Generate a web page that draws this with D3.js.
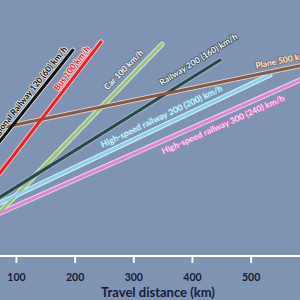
<!DOCTYPE html>
<html><head><meta charset="utf-8">
<script src="https://cdn.jsdelivr.net/npm/d3@7"></script>
<style>html,body{margin:0;padding:0;background:#7f93b3;}svg{display:block;}</style>
</head><body>
<svg id="c" width="300" height="300"></svg>
<script>
// ---- data ----
const modes = ["Regional Railway 120 (60) km/h","Bus 100 km/h","Car 100 km/h","Railway 200 (160) km/h","Plane 500 km/h","High-speed railway 200 (200) km/h","High-speed railway 300 (240) km/h"];
const startDist = [0, 0, 0, 0, 0, 0, 0];          // km
const startTime = [1.05, 0.47, 0.0, 0.55, 2.03, 0.56, 0.41]; // h
const endDist = [197, 245, 349, 448, 650, 533, 650];   // km
const endTime = [3.51, 3.65, 3.61, 3.34, 3.38, 3.085, 3.29]; // h
const xTicks = [100, 200, 300, 400, 500, 600];
const xTitle = "Travel distance (km)";

// ---- styles ----
const lineColor = ["#111111","#e3242b","#9dc183","#28474f","#7e5b4c","#8fcfe9","#d88ad0"];
const haloColor = ["#d9d9d9","#f6c2c2","#d9ebc9","#9fb6bf","#e6cbbd","#d2f0fb","#f3cdef"];
const labelCfg = [
  {anchor:"end", along:-3, perp:4.5, fill:"#111111", stroke:"#e6e6e6"},
  {anchor:"end", along:-12, perp:4, fill:"#e3242b", stroke:"#f7dede"},
  {anchor:"end", along:-19, perp:7, fill:"#f4f4f4", stroke:"#5b6672"},
  {anchor:"end", along:27, perp:9, fill:"#f4f4f4", stroke:"#3b505b"},
  {anchor:"start", along:-83, perp:6, fill:"#f3e7dd", stroke:"#86685a"},
  {anchor:"end", along:-49, perp:6, fill:"#d6f1fb", stroke:"#6fa9c6"},
  {anchor:"end", along:-64, perp:-12.5, fill:"#f7dcf3", stroke:"#c477bd"}
];

const svg = d3.select("#c");
const x = d3.scaleLinear().domain([0, 600]).range([-42.7, 309.3]);
const y = d3.scaleLinear().domain([0, 4.363]).range([256, 0]);

// axis
const axis = d3.axisBottom(x).tickValues(xTicks).tickSize(7).tickPadding(11).tickFormat(d3.format("d"));
const gx = svg.append("g").attr("transform", "translate(0,256)").call(axis);
gx.select(".domain").remove();
gx.append("line").attr("x1", -5).attr("x2", 305).attr("stroke", "#ffffff").attr("stroke-width", 2);
gx.selectAll(".tick line").attr("stroke", "#ffffff").attr("stroke-width", 2);
gx.selectAll(".tick text").attr("fill", "#16203a").style("font", "bold 10.5px Lato");
svg.append("text").attr("x", 158).attr("y", 297).attr("text-anchor", "middle")
  .attr("fill", "#16203a").style("font", "bold 13px Lato").text(xTitle);

// lines
const order = [2, 3, 5, 6, 4, 0, 1];
const lines = order.map(i => ({i, x1:x(startDist[i]), y1:y(startTime[i]), x2:x(endDist[i]), y2:y(endTime[i])}));
const lg = svg.append("g");
lg.selectAll("line.halo").data(lines).join("line").attr("class","halo")
  .attr("x1", d=>d.x1).attr("y1", d=>d.y1).attr("x2", d=>d.x2).attr("y2", d=>d.y2)
  .attr("stroke", d=>haloColor[d.i]).attr("stroke-width", 5).attr("stroke-linecap","round");
lg.selectAll("line.main").data(lines).join("line").attr("class","main")
  .attr("x1", d=>d.x1).attr("y1", d=>d.y1).attr("x2", d=>d.x2).attr("y2", d=>d.y2)
  .attr("stroke", d=>lineColor[d.i]).attr("stroke-width", 3).attr("stroke-linecap","round");

// labels
const tg = svg.append("g");
modes.forEach((m, i) => {
  const x1 = x(startDist[i]), y1 = y(startTime[i]), x2 = x(endDist[i]), y2 = y(endTime[i]);
  const L = Math.hypot(x2-x1, y2-y1);
  const dx = (x2-x1)/L, dy = (y2-y1)/L;
  const nx = dy, ny = -dx;
  const c = labelCfg[i];
  const px = x2 + dx*c.along + nx*c.perp, py = y2 + dy*c.along + ny*c.perp;
  const ang = Math.atan2(dy, dx) * 180 / Math.PI;
  tg.append("text").attr("transform", `translate(${px},${py}) rotate(${ang})`)
    .attr("text-anchor", c.anchor).attr("fill", c.fill).attr("stroke", c.stroke)
    .attr("stroke-width", 1.6).attr("paint-order", "stroke").attr("stroke-linejoin","round")
    .style("font", "bold 8.5px Lato").text(m);
});
</script>
</body></html>
